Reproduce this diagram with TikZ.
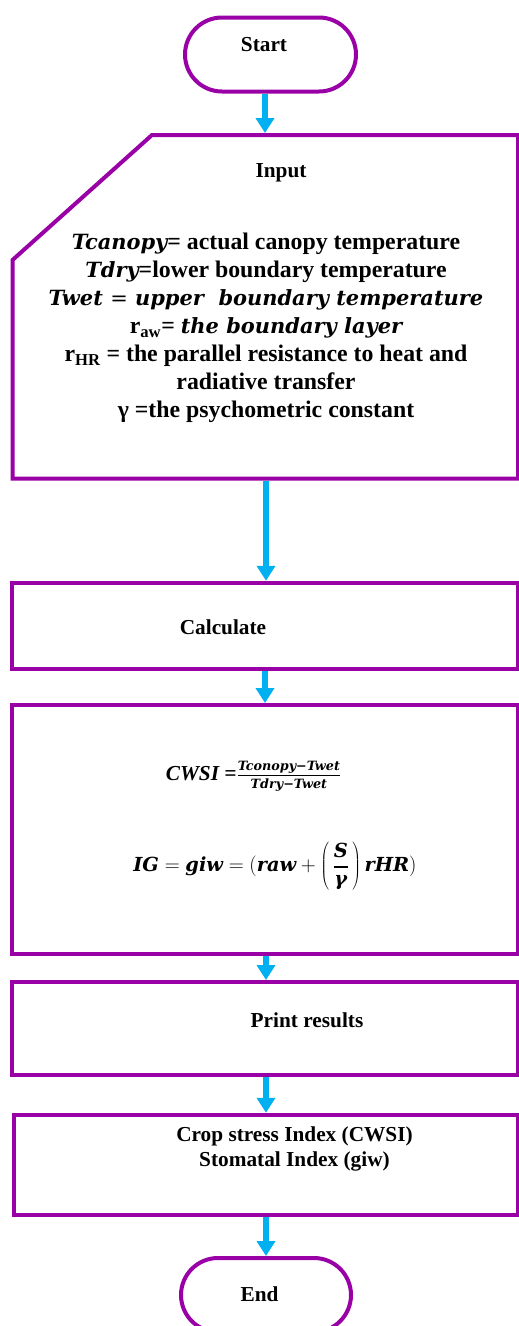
\documentclass[tikz,border=0pt]{standalone}
\usepackage{fontspec}
\setmainfont{Liberation Serif}
\newfontfamily\cambr[Scale=0.88]{DejaVu Serif}
\usepackage{xcolor}
\usetikzlibrary{arrows.meta, positioning, shapes.misc}
\definecolor{chartpurple}{RGB}{153,0,166}
\definecolor{flowcyan}{RGB}{0,176,240}
\newcommand\mv[1]{{\cambr\bfseries\itshape #1}}
\newcommand\mh[1]{\hbox{\mv{#1}}}
\newcommand\mfr[1]{\hbox{\cambr\bfseries\itshape\fontsize{14.5}{16}\selectfont #1}}

\begin{document}
\begin{tikzpicture}[x=1pt, y=-1pt, >=Stealth,
  every node/.style={font=\bfseries\fontsize{21.3}{25}\selectfont},
  terminal/.style={draw=chartpurple, line width=4pt, rounded rectangle, minimum width=171pt, minimum height=74pt, inner sep=0pt},
  procbox/.style={draw=chartpurple, line width=4pt, rectangle, minimum width=506pt, inner sep=0pt},
  flow/.style={draw=flowcyan, line width=6pt, -{Triangle[width=18pt,length=15pt]}}]

\useasboundingbox (0,0) rectangle (519,1326);

\node (start) [terminal] at (270.5,54.5) {};
\node (starttxt) at (264,45) {Start};

% input block with the cut corner
\draw[chartpurple, line width=4pt, line join=miter]
  (152,135) -- (518,135) -- (518,478.5) -- (12.5,478.5) -- (12.5,260) -- cycle;
\coordinate (intop) at (265,133);
\coordinate (inbot) at (266,480.5);
\node (inlabel) at (281,173) {Input};
\node (invars) [align=center, font=\bfseries\fontsize{23.8}{28}\selectfont] at (266,328) {
  \mv{Tcanopy}= actual canopy temperature\\
  \mv{Tdry}=lower boundary temperature\\
  \mv{Twet {\mdseries\upshape=} upper\ \ boundary temperature}\\
  r\textsubscript{aw}= \mv{the boundary layer}\\
  r\textsubscript{HR} = the parallel resistance to heat and\\
  radiative transfer\\
  γ =the psychometric constant};

\node (calc) [procbox, minimum height=86.5pt] at (265,626) {};
\node (calctxt) at (223,627) {Calculate};

\node (formula) [procbox, minimum height=249pt] at (265,829.5) {};
\node (cwsi) at (253.5,776) {\itshape CWSI =$\mfr{Tconopy−Twet}\above 1.6pt\mfr{Tdry−Twet}$};
\node (igeq) [font=\fontsize{22}{26}\selectfont] at (275,866.5)
  {$\mh{IG}=\mh{giw}=(\mh{raw}+\left(\,\displaystyle{\mh{S}\above 2pt\mh{γ}}\,\right)\mh{rHR})$};

\node (print) [procbox, minimum height=93pt] at (265,1028.5) {};
\node (printtxt) at (307,1020) {Print results};

\node (output) [procbox, minimum width=504pt, minimum height=100.5pt] at (266,1165) {};
\node (outtxt) [align=center] at (294.5,1149) {Crop stress Index (CWSI)\\Stomatal Index (giw)};

\node (end) [terminal, minimum width=170pt] at (266,1295) {};
\node (endtxt) at (259.5,1294) {End};

\draw[flow] (start.south -| intop) -- (intop);
\draw[flow] (inbot) -- (calc.north -| inbot);
\draw[flow] (calc.south) -- (formula.north);
\draw[flow] (formula.south -| inbot) -- (print.north -| inbot);
\draw[flow] (print.south -| output.north) -- (output.north);
\draw[flow] (output.south) -- (end.north);

\end{tikzpicture}
\end{document}
